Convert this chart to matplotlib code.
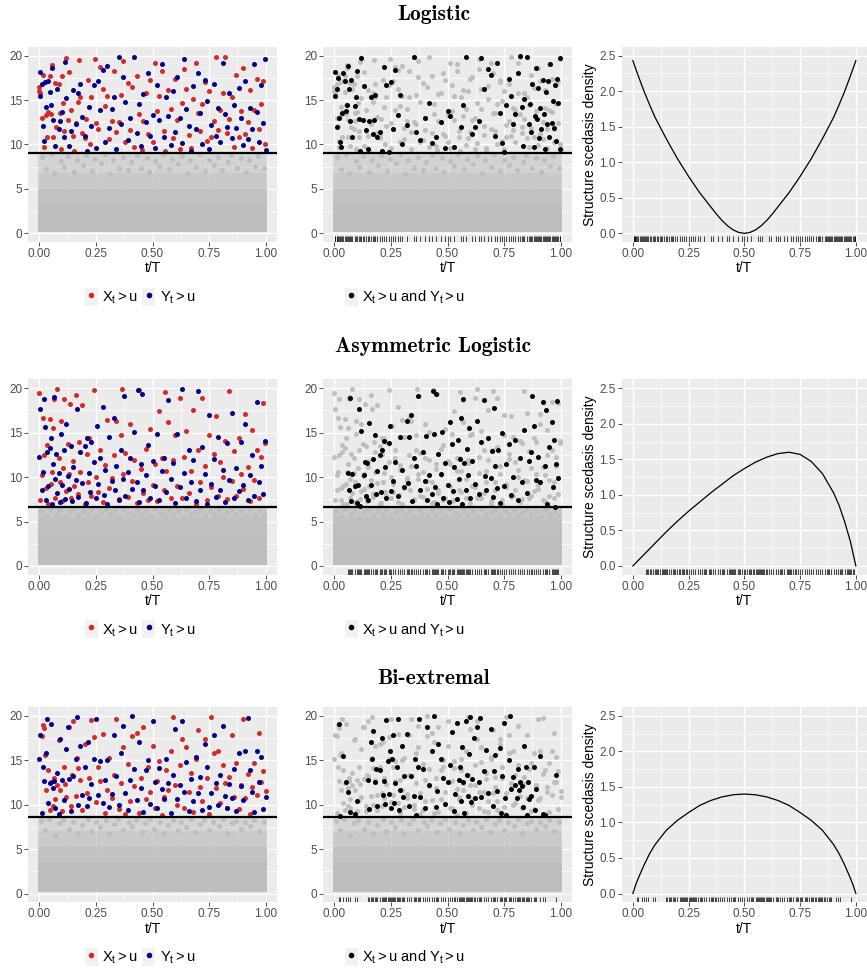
import matplotlib
matplotlib.use('Agg')
import matplotlib.pyplot as plt
from matplotlib.lines import Line2D
from matplotlib.patches import Patch

plt.rcParams['font.family'] = ['Liberation Sans', 'DejaVu Sans']
plt.rcParams['mathtext.fontset'] = 'custom'
plt.rcParams['mathtext.rm'] = 'Liberation Sans'
plt.rcParams['mathtext.it'] = 'Liberation Sans:italic'

RED = '#D22B2B'
BLUE = '#00008B'
GREY = '#BEBEBE'

TITLES = ['Logistic', 'Asymmetric Logistic', 'Bi-extremal']
THRESHOLDS = [9.08, 6.6, 8.62]

# grey bulk below the threshold: band edges and how dense each band looks
BULK_EDGES = [
    [0.15, 3.3, 5.0, 6.8, 9.05],
    [0.15, 4.0, 5.5, 6.55],
    [0.15, 3.5, 5.2, 7.0, 8.6],
]
BULK_DENSITY = [
    [1.0, 0.9, 0.75, 0.55],
    [1.0, 0.95, 0.8],
    [1.0, 0.9, 0.72, 0.5],
]
# loose grey points near the top of the bulk
LOG_GREY = [(0.012,8.6),(0.028,7.2),(0.053,8.9),(0.066,6.8),(0.094,8.1),(0.108,7.5),(0.127,8.7),(0.152,6.9),
            (0.168,8.3),(0.193,7.7),(0.207,8.8),(0.234,7.0),(0.246,8.4),(0.271,7.9),(0.288,8.9),(0.314,6.7),
            (0.326,8.2),(0.353,7.4),(0.368,8.6),(0.392,7.1),(0.404,8.0),(0.433,8.8),(0.447,7.3),(0.474,8.5),
            (0.486,6.9),(0.512,8.1),(0.527,7.6),(0.548,8.9),(0.574,7.2),(0.585,8.4),(0.613,7.8),(0.629,8.7),
            (0.652,6.8),(0.667,8.2),(0.694,7.5),(0.706,8.9),(0.733,7.0),(0.748,8.3),(0.772,7.7),(0.791,8.6),
            (0.808,7.1),(0.834,8.0),(0.846,8.8),(0.873,7.4),(0.889,8.5),(0.914,6.9),(0.927,8.2),(0.953,7.6),
            (0.968,8.7),(0.992,7.3)]
ASY_GREY = [(0.008,6.2),(0.031,5.6),(0.047,6.4),(0.072,5.9),(0.089,6.3),(0.113,5.5),(0.131,6.1),(0.148,6.4),
            (0.171,5.7),(0.192,6.2),(0.213,5.9),(0.229,6.4),(0.252,5.6),(0.274,6.1),(0.293,6.3),(0.311,5.8),
            (0.334,6.2),(0.351,5.5),(0.372,6.4),(0.389,6.0),(0.414,5.7),(0.432,6.3),(0.451,5.9),(0.473,6.2),
            (0.492,5.6),(0.511,6.4),(0.534,6.0),(0.553,5.7),(0.571,6.3),(0.592,5.9),(0.612,6.2),(0.633,5.5),
            (0.649,6.4),(0.671,5.8),(0.692,6.1),(0.711,6.4),(0.732,5.7),(0.753,6.2),(0.771,5.9),(0.794,6.3),
            (0.812,5.6),(0.829,6.1),(0.853,6.4),(0.871,5.8),(0.893,6.2),(0.912,5.6),(0.931,6.3),(0.952,5.9),
            (0.973,6.2),(0.991,5.7)]
BIE_GREY = [(0.006,8.2),(0.027,7.1),(0.044,8.4),(0.068,6.6),(0.087,7.9),(0.106,8.3),(0.129,7.3),(0.148,8.1),
            (0.173,6.8),(0.188,7.7),(0.214,8.4),(0.228,7.0),(0.251,8.0),(0.269,7.5),(0.293,8.3),(0.308,6.7),
            (0.331,7.8),(0.349,8.4),(0.368,7.2),(0.394,8.0),(0.409,7.6),(0.428,8.3),(0.452,6.9),(0.468,7.9),
            (0.489,8.4),(0.508,7.3),(0.532,8.1),(0.551,6.8),(0.569,7.7),(0.591,8.3),(0.611,7.1),(0.628,8.0),
            (0.649,7.5),(0.672,8.4),(0.688,6.9),(0.712,7.8),(0.729,8.3),(0.751,7.2),(0.769,8.0),(0.793,7.6),
            (0.811,8.4),(0.828,6.8),(0.852,7.9),(0.869,8.2),(0.891,7.3),(0.909,8.0),(0.932,7.6),(0.949,8.3),
            (0.971,7.0),(0.993,8.1)]

# ---- Logistic ----
LOG_RED = [(0.0,16.0),(0.0,16.5),(0.005,15.8),(0.01,13.0),(0.015,17.8),(0.02,9.7),(0.03,13.3),(0.035,10.8),
           (0.04,13.7),(0.045,17.7),(0.05,13.4),(0.055,18.9),(0.06,10.9),(0.07,16.9),(0.075,12.0),(0.085,16.8),
           (0.09,13.5),(0.095,9.5),(0.10,17.7),(0.105,14.7),(0.11,11.5),(0.12,19.7),(0.125,12.8),(0.13,18.2),
           (0.14,13.9),(0.15,11.0),(0.155,9.3),(0.16,12.4),(0.17,14.8),(0.175,19.5),(0.18,15.4),(0.19,11.3),
           (0.20,10.7),(0.205,12.9),(0.215,17.3),(0.225,10.0),(0.23,15.4),(0.245,19.6),(0.25,12.4),(0.26,11.7),
           (0.27,18.7),(0.28,16.3),(0.29,14.3),(0.30,15.5),(0.31,10.6),(0.32,12.6),(0.33,18.3),(0.34,11.4),
           (0.35,12.5),(0.36,15.6),(0.37,19.4),(0.38,10.3),(0.39,16.9),(0.40,11.6),(0.41,16.5),(0.42,9.7),
           (0.43,17.7),(0.44,13.4),(0.455,9.4),(0.46,12.6),(0.47,15.8),(0.48,11.2),(0.49,17.3),(0.50,10.3),
           (0.51,19.2),(0.52,13.8),(0.53,15.5),(0.54,18.3),(0.55,11.5),(0.555,9.3),(0.57,16.1),(0.58,14.0),
           (0.59,10.7),(0.60,17.4),(0.61,12.8),(0.62,9.5),(0.63,14.7),(0.64,18.5),(0.65,16.2),(0.66,11.1),
           (0.67,9.6),(0.68,15.1),(0.69,19.2),(0.70,13.5),(0.71,11.5),(0.72,14.6),(0.73,17.0),(0.74,10.4),
           (0.75,16.0),(0.76,10.9),(0.77,12.7),(0.78,19.9),(0.79,11.6),(0.80,13.9),(0.81,15.8),(0.82,19.8),
           (0.83,11.3),(0.84,12.9),(0.85,15.3),(0.86,9.7),(0.87,17.8),(0.88,10.8),(0.89,13.8),(0.90,18.6),
           (0.91,11.2),(0.92,12.5),(0.93,16.1),(0.94,9.6),(0.95,13.9),(0.96,17.4),(0.97,11.8),(0.98,14.6),
           (0.99,17.2),(0.995,10.1)]
LOG_BLUE = [(0.005,18.2),(0.005,15.5),(0.01,16.8),(0.015,12.1),(0.02,10.4),(0.025,17.0),(0.03,14.2),(0.04,17.2),
            (0.045,15.9),(0.05,14.5),(0.055,18.6),(0.06,12.8),(0.07,9.8),(0.08,16.2),(0.085,11.7),(0.09,12.7),
            (0.10,13.7),(0.11,10.8),(0.115,19.3),(0.12,15.2),(0.13,9.8),(0.14,11.5),(0.15,16.1),(0.16,12.3),
            (0.17,15.8),(0.18,16.8),(0.19,13.1),(0.20,11.0),(0.21,9.3),(0.22,14.2),(0.23,12.1),(0.24,16.7),
            (0.25,9.6),(0.26,17.1),(0.27,13.9),(0.28,18.4),(0.29,10.3),(0.30,18.8),(0.31,11.9),(0.32,14.0),
            (0.33,15.3),(0.34,9.5),(0.35,19.9),(0.36,12.3),(0.37,17.6),(0.38,14.8),(0.39,10.5),(0.40,13.0),
            (0.42,19.8),(0.43,11.3),(0.44,14.6),(0.45,9.8),(0.46,15.7),(0.47,12.5),(0.48,18.1),(0.49,11.0),
            (0.50,13.3),(0.51,9.6),(0.52,16.7),(0.53,12.8),(0.54,19.1),(0.55,10.8),(0.56,15.4),(0.57,13.2),
            (0.58,9.9),(0.59,16.0),(0.60,11.4),(0.61,17.6),(0.62,13.0),(0.63,10.2),(0.64,19.6),(0.65,14.0),
            (0.66,12.1),(0.67,9.3),(0.68,16.6),(0.69,11.8),(0.70,18.0),(0.71,13.6),(0.72,10.1),(0.73,17.3),
            (0.74,14.9),(0.75,9.5),(0.76,12.2),(0.77,16.8),(0.78,11.0),(0.79,14.1),(0.80,10.3),(0.81,19.2),
            (0.82,13.4),(0.83,12.0),(0.84,15.8),(0.85,10.7),(0.86,14.4),(0.87,11.9),(0.88,16.4),(0.89,13.0),
            (0.90,9.9),(0.91,17.1),(0.92,10.6),(0.93,14.1),(0.94,11.7),(0.95,19.1),(0.96,13.7),(0.97,10.3),
            (0.98,16.7),(0.99,12.4),(0.995,19.6),(1.0,9.4)]
LOG_BOTH = [(0.005,18.2),(0.005,15.5),(0.01,16.3),(0.01,12.0),(0.015,17.5),(0.02,13.0),(0.025,10.3),(0.03,9.7),
            (0.035,13.5),(0.04,18.0),(0.045,17.1),(0.05,13.8),(0.055,14.5),(0.06,18.8),(0.065,16.2),(0.07,12.6),
            (0.075,17.3),(0.08,10.9),(0.09,14.3),(0.095,15.3),(0.10,18.3),(0.11,12.9),(0.115,9.3),(0.12,19.7),
            (0.125,12.8),(0.13,16.6),(0.14,11.6),(0.15,9.5),(0.155,12.6),(0.16,15.3),(0.17,11.2),(0.175,12.8),
            (0.18,15.6),(0.19,10.9),(0.20,11.4),(0.21,9.3),(0.22,18.7),(0.23,16.7),(0.24,9.2),(0.25,17.0),
            (0.26,11.7),(0.27,18.4),(0.28,13.3),(0.29,15.6),(0.30,10.1),(0.32,12.2),(0.35,19.9),(0.36,11.4),
            (0.38,10.5),(0.40,13.0),(0.42,14.7),(0.43,10.2),(0.45,10.9),(0.47,12.5),(0.49,9.6),(0.50,13.8),
            (0.51,13.2),(0.53,9.7),(0.56,12.0),(0.57,14.4),(0.58,19.8),(0.61,11.2),(0.62,12.0),(0.64,12.6),
            (0.65,19.7),(0.66,16.2),(0.68,18.5),(0.69,17.8),(0.71,11.0),(0.72,19.2),(0.73,13.5),(0.74,10.2),
            (0.75,9.2),(0.76,14.5),(0.77,17.4),(0.78,15.5),(0.79,12.3),(0.80,13.4),(0.81,18.0),(0.82,20.0),
            (0.83,14.2),(0.835,9.8),(0.84,15.1),(0.85,19.8),(0.86,12.3),(0.865,14.6),(0.87,11.4),(0.875,16.8),
            (0.88,9.7),(0.885,13.2),(0.89,18.6),(0.895,12.9),(0.90,16.4),(0.905,10.7),(0.91,14.1),(0.915,11.8),
            (0.92,17.3),(0.925,13.4),(0.93,9.5),(0.935,15.9),(0.94,12.3),(0.945,17.1),(0.95,10.9),(0.955,19.1),
            (0.96,12.4),(0.965,14.9),(0.97,11.9),(0.975,16.7),(0.98,10.4),(0.985,17.4),(0.99,14.7),(0.995,9.5),
            (0.995,19.7)]
LOG_DENS_T = [0.0, 0.025, 0.05, 0.075, 0.10, 0.15, 0.20, 0.25, 0.30, 0.35, 0.375, 0.40, 0.425, 0.45, 0.475, 0.50,
              0.525, 0.55, 0.575, 0.60, 0.625, 0.65, 0.70, 0.75, 0.80, 0.85, 0.90, 0.925, 0.95, 0.975, 1.0]
LOG_DENS = [2.43, 2.21, 2.00, 1.81, 1.63, 1.33, 1.05, 0.80, 0.57, 0.37, 0.27, 0.18, 0.105, 0.048, 0.012, 0.0,
            0.012, 0.048, 0.105, 0.18, 0.27, 0.37, 0.57, 0.80, 1.05, 1.33, 1.63, 1.81, 2.00, 2.21, 2.43]

# ---- Asymmetric Logistic ----
ASY_RED = [(0.00,19.5),(0.005,7.4),(0.01,10.2),(0.015,16.6),(0.02,12.5),(0.03,8.8),(0.035,13.6),(0.04,7.0),
           (0.045,16.5),(0.05,9.2),(0.055,10.6),(0.06,15.5),(0.065,18.8),(0.07,7.7),(0.08,19.9),(0.085,12.2),
           (0.09,9.5),(0.095,16.3),(0.10,7.3),(0.105,11.0),(0.11,18.8),(0.12,8.4),(0.125,13.7),(0.13,10.3),
           (0.135,18.2),(0.14,7.6),(0.15,11.8),(0.155,9.0),(0.16,19.2),(0.17,8.1),(0.175,14.0),(0.18,10.6),
           (0.19,18.1),(0.20,7.0),(0.21,12.6),(0.215,9.4),(0.22,14.4),(0.23,7.9),(0.24,19.8),(0.25,10.0),
           (0.26,8.3),(0.27,13.1),(0.28,7.2),(0.29,11.4),(0.30,16.4),(0.31,8.8),(0.32,9.9),(0.33,12.5),
           (0.34,16.3),(0.35,7.5),(0.36,14.7),(0.365,19.9),(0.37,10.4),(0.38,12.7),(0.39,7.8),(0.40,16.0),
           (0.41,9.6),(0.42,11.9),(0.43,7.1),(0.44,19.8),(0.45,10.9),(0.46,8.2),(0.47,13.2),(0.48,7.4),
           (0.49,15.4),(0.50,9.1),(0.51,11.5),(0.52,7.3),(0.53,17.4),(0.54,12.1),(0.55,8.6),(0.555,19.6),
           (0.56,10.7),(0.57,16.2),(0.58,7.6),(0.59,11.9),(0.60,14.7),(0.61,9.0),(0.62,18.9),(0.63,7.7),
           (0.64,12.3),(0.65,15.2),(0.66,8.2),(0.67,10.7),(0.68,17.6),(0.69,7.0),(0.70,13.1),(0.71,9.5),
           (0.72,18.9),(0.73,11.2),(0.74,7.4),(0.75,14.7),(0.76,8.9),(0.77,12.6),(0.78,16.9),(0.79,7.9),
           (0.80,11.7),(0.81,10.0),(0.82,14.1),(0.83,7.5),(0.84,19.7),(0.85,9.6),(0.86,12.9),(0.87,7.9),
           (0.88,14.4),(0.89,10.3),(0.90,8.7),(0.91,17.1),(0.92,11.1),(0.93,7.3),(0.94,15.3),(0.95,9.7),
           (0.96,13.1),(0.97,7.6),(0.98,12.3),(0.99,18.3),(0.995,13.8)]
ASY_BLUE = [(0.00,12.3),(0.005,17.7),(0.01,8.6),(0.015,10.6),(0.02,18.8),(0.025,15.6),(0.03,7.4),(0.035,12.8),
            (0.04,9.0),(0.045,13.3),(0.05,14.4),(0.055,7.0),(0.06,11.5),(0.065,19.0),(0.07,9.8),(0.075,12.6),
            (0.08,8.2),(0.085,10.5),(0.09,7.2),(0.095,14.8),(0.10,9.1),(0.11,13.0),(0.115,7.5),(0.12,16.0),
            (0.125,10.1),(0.13,8.7),(0.14,13.5),(0.145,7.3),(0.15,11.1),(0.16,9.7),(0.165,17.7),(0.17,7.8),
            (0.18,12.8),(0.19,9.3),(0.20,13.5),(0.205,7.1),(0.21,14.4),(0.22,10.5),(0.225,8.3),(0.23,13.9),
            (0.24,11.7),(0.25,7.6),(0.255,15.8),(0.26,9.2),(0.27,12.2),(0.28,17.9),(0.285,8.0),(0.29,10.8),
            (0.30,7.0),(0.31,14.5),(0.32,9.6),(0.33,16.7),(0.335,8.5),(0.34,11.3),(0.35,7.4),(0.36,13.0),
            (0.37,9.8),(0.375,19.1),(0.38,7.9),(0.39,10.6),(0.40,12.2),(0.41,8.7),(0.42,15.1),(0.43,9.5),
            (0.435,19.8),(0.44,7.2),(0.45,11.5),(0.455,19.4),(0.46,8.6),(0.47,10.2),(0.48,13.6),(0.49,7.6),
            (0.50,11.8),(0.51,9.0),(0.52,14.9),(0.53,7.4),(0.54,10.7),(0.55,12.2),(0.56,8.3),(0.57,18.7),
            (0.58,9.8),(0.59,11.6),(0.60,7.1),(0.61,14.8),(0.62,8.9),(0.63,19.9),(0.64,10.5),(0.65,7.7),
            (0.66,13.0),(0.67,9.4),(0.68,11.9),(0.69,7.3),(0.70,19.7),(0.71,8.6),(0.72,13.4),(0.73,10.4),
            (0.74,7.0),(0.75,17.0),(0.76,9.2),(0.77,12.0),(0.78,7.8),(0.79,14.5),(0.80,8.5),(0.81,10.8),
            (0.82,7.2),(0.83,13.8),(0.84,9.7),(0.85,17.2),(0.86,7.6),(0.87,11.0),(0.88,8.4),(0.89,13.9),
            (0.90,9.1),(0.91,16.0),(0.92,7.4),(0.93,10.2),(0.94,12.5),(0.95,7.9),(0.96,18.5),(0.97,9.4),
            (0.98,11.3),(0.99,8.1),(0.995,14.1)]
ASY_BOTH = [(0.06,10.5),(0.065,8.5),(0.07,18.9),(0.075,7.3),(0.08,10.4),(0.09,9.0),(0.10,7.1),(0.105,9.1),
            (0.11,17.7),(0.115,6.8),(0.12,15.2),(0.13,10.2),(0.135,11.7),(0.14,7.9),(0.145,11.6),(0.15,7.4),
            (0.155,16.1),(0.16,9.1),(0.17,12.0),(0.18,14.7),(0.185,8.1),(0.19,10.7),(0.20,12.5),(0.205,8.3),
            (0.21,13.0),(0.22,14.1),(0.225,11.1),(0.23,7.7),(0.24,13.8),(0.245,15.8),(0.25,8.4),(0.26,9.6),
            (0.27,11.7),(0.28,7.9),(0.29,14.5),(0.30,10.8),(0.31,8.9),(0.32,16.3),(0.325,9.3),(0.33,14.5),
            (0.34,17.0),(0.345,7.3),(0.35,12.1),(0.36,11.3),(0.37,19.1),(0.38,8.6),(0.39,12.8),(0.40,9.6),
            (0.405,14.6),(0.41,7.4),(0.42,10.2),(0.43,8.1),(0.435,19.7),(0.44,14.8),(0.445,8.9),(0.45,19.3),
            (0.455,7.0),(0.46,12.6),(0.47,10.4),(0.475,15.1),(0.48,7.7),(0.49,11.6),(0.50,9.1),(0.505,7.2),
            (0.51,16.2),(0.52,13.7),(0.525,8.4),(0.53,11.1),(0.54,7.5),(0.545,14.2),(0.55,9.8),(0.555,12.0),
            (0.56,16.6),(0.565,7.0),(0.57,18.8),(0.575,11.6),(0.58,8.6),(0.585,13.2),(0.59,10.2),(0.595,15.5),
            (0.60,7.7),(0.61,11.8),(0.62,9.2),(0.63,16.3),(0.64,8.1),(0.65,13.9),(0.66,18.7),(0.665,10.1),
            (0.67,8.5),(0.68,14.4),(0.69,9.9),(0.695,12.9),(0.70,7.8),(0.705,17.8),(0.71,11.2),(0.72,8.8),
            (0.725,13.0),(0.73,7.1),(0.74,15.0),(0.75,9.0),(0.76,11.5),(0.77,13.7),(0.78,8.0),(0.79,10.0),
            (0.80,14.2),(0.81,7.4),(0.82,12.2),(0.83,9.5),(0.84,15.3),(0.85,8.2),(0.86,11.8),(0.87,12.8),
            (0.875,19.1),(0.88,15.7),(0.89,9.7),(0.90,12.3),(0.91,9.4),(0.92,18.5),(0.93,11.2),(0.935,17.5),
            (0.94,7.0),(0.95,13.4),(0.96,16.2),(0.965,8.9),(0.97,14.2),(0.975,6.6),(0.98,11.5),(0.985,18.6),
            (0.99,9.9)]
ASY_DENS_T = [0.0, 0.05, 0.10, 0.15, 0.20, 0.25, 0.30, 0.35, 0.40, 0.45, 0.50, 0.55, 0.60, 0.65, 0.70,
              0.75, 0.80, 0.85, 0.90, 0.925, 0.95, 0.975, 1.0]
ASY_DENS = [0.0, 0.16, 0.32, 0.48, 0.63, 0.77, 0.90, 1.03, 1.15, 1.27, 1.37, 1.46, 1.53, 1.58, 1.60,
            1.57, 1.47, 1.30, 1.03, 0.85, 0.62, 0.35, 0.0]

# ---- Bi-extremal ----
BIE_RED = [(0.01,17.7),(0.015,19.0),(0.02,18.6),(0.025,15.6),(0.03,11.6),(0.04,13.9),(0.045,9.4),(0.05,12.5),
           (0.06,9.9),(0.065,13.0),(0.07,10.6),(0.08,12.2),(0.085,17.3),(0.09,11.6),(0.10,9.3),(0.11,14.2),
           (0.115,12.3),(0.12,10.9),(0.13,18.8),(0.14,9.8),(0.145,13.4),(0.15,19.4),(0.16,11.0),(0.165,15.3),
           (0.17,14.1),(0.18,12.8),(0.19,9.4),(0.20,16.8),(0.21,11.3),(0.22,13.0),(0.23,19.5),(0.24,17.6),
           (0.25,10.3),(0.26,14.3),(0.27,12.7),(0.28,18.0),(0.29,9.1),(0.30,11.6),(0.31,15.3),(0.32,10.8),
           (0.33,13.3),(0.34,19.6),(0.35,9.5),(0.36,12.4),(0.37,16.5),(0.38,8.9),(0.39,14.6),(0.40,10.4),
           (0.41,17.7),(0.42,12.1),(0.43,18.1),(0.44,9.1),(0.45,13.0),(0.46,18.8),(0.47,10.6),(0.48,14.2),
           (0.49,11.4),(0.50,16.6),(0.51,9.6),(0.52,12.7),(0.53,14.9),(0.54,8.8),(0.55,10.9),(0.56,13.9),
           (0.57,11.7),(0.58,16.1),(0.59,19.9),(0.60,12.2),(0.61,10.0),(0.62,14.5),(0.63,17.4),(0.64,9.6),
           (0.65,16.5),(0.66,11.4),(0.67,13.6),(0.68,9.2),(0.69,15.1),(0.70,18.4),(0.71,12.0),(0.72,10.4),
           (0.73,17.4),(0.74,13.0),(0.75,8.9),(0.76,19.9),(0.77,15.8),(0.78,11.9),(0.79,16.0),(0.80,10.2),
           (0.81,14.5),(0.82,12.4),(0.83,9.6),(0.84,13.1),(0.85,17.8),(0.86,10.9),(0.87,14.7),(0.88,9.5),
           (0.89,12.2),(0.90,19.7),(0.91,10.7),(0.92,13.5),(0.93,9.0),(0.94,12.0),(0.95,14.7),(0.96,11.1),
           (0.97,18.1),(0.98,12.6),(0.99,13.8),(1.0,11.5)]
BIE_BLUE = [(0.0,15.1),(0.005,17.8),(0.01,9.1),(0.015,14.2),(0.02,12.7),(0.03,15.8),(0.035,19.7),(0.04,10.2),
            (0.045,12.4),(0.05,19.1),(0.06,11.9),(0.065,12.7),(0.07,9.6),(0.08,13.6),(0.085,8.9),(0.09,17.4),
            (0.10,12.8),(0.11,10.5),(0.12,16.3),(0.125,18.7),(0.13,12.9),(0.14,9.3),(0.15,13.2),(0.16,15.1),
            (0.165,19.9),(0.17,10.0),(0.18,16.6),(0.19,11.1),(0.20,14.3),(0.21,9.8),(0.215,17.1),(0.22,10.7),
            (0.23,12.3),(0.24,15.2),(0.25,19.6),(0.26,11.1),(0.27,14.9),(0.28,10.2),(0.29,12.8),(0.30,15.0),
            (0.31,9.7),(0.32,11.2),(0.33,17.8),(0.34,13.2),(0.35,10.0),(0.36,15.8),(0.37,18.9),(0.38,11.3),
            (0.39,9.4),(0.40,12.8),(0.41,20.0),(0.42,14.0),(0.43,10.5),(0.44,17.1),(0.45,11.9),(0.46,9.2),
            (0.47,13.9),(0.48,15.0),(0.49,10.1),(0.50,19.4),(0.51,12.6),(0.52,9.6),(0.53,14.1),(0.54,11.8),
            (0.55,10.6),(0.56,15.1),(0.57,12.4),(0.58,9.1),(0.59,13.3),(0.60,18.5),(0.61,10.6),(0.62,12.2),
            (0.63,19.4),(0.64,11.4),(0.65,14.8),(0.66,9.3),(0.67,12.9),(0.68,10.4),(0.69,15.4),(0.70,11.3),
            (0.71,13.1),(0.72,9.4),(0.73,16.8),(0.74,14.3),(0.75,9.7),(0.76,11.3),(0.77,17.9),(0.78,12.4),
            (0.79,10.0),(0.80,13.3),(0.81,18.9),(0.82,11.0),(0.83,9.6),(0.84,12.3),(0.85,10.7),(0.86,14.0),
            (0.87,9.3),(0.88,15.8),(0.89,12.1),(0.90,10.5),(0.91,16.1),(0.92,19.8),(0.93,13.9),(0.94,11.4),
            (0.95,9.2),(0.96,16.0),(0.97,12.6),(0.98,15.4),(0.99,9.5),(1.0,10.9)]
BIE_BOTH = [(0.02,19.1),(0.025,8.7),(0.04,15.5),(0.05,12.5),(0.06,11.4),(0.07,9.2),(0.09,8.9),(0.10,10.4),
            (0.15,12.8),(0.155,9.5),(0.16,17.1),(0.165,15.1),(0.17,18.3),(0.18,12.5),(0.185,14.0),(0.19,9.8),
            (0.20,13.9),(0.21,17.5),(0.215,11.1),(0.22,12.7),(0.225,10.1),(0.23,19.5),(0.235,14.9),(0.24,11.2),
            (0.245,16.1),(0.25,9.6),(0.255,15.2),(0.26,17.9),(0.265,10.2),(0.27,12.4),(0.275,14.3),(0.28,19.7),
            (0.285,9.4),(0.29,11.6),(0.30,16.6),(0.305,10.9),(0.31,13.2),(0.32,18.0),(0.33,9.9),(0.34,13.2),
            (0.35,11.0),(0.355,15.2),(0.36,8.8),(0.37,14.2),(0.375,19.6),(0.38,10.9),(0.39,14.0),(0.40,9.6),
            (0.41,18.8),(0.42,12.2),(0.43,16.0),(0.44,20.0),(0.45,9.7),(0.455,11.5),(0.46,16.8),(0.47,15.2),
            (0.48,13.0),(0.49,10.1),(0.50,12.6),(0.51,14.5),(0.52,18.2),(0.53,9.3),(0.535,11.2),(0.54,19.2),
            (0.55,12.8),(0.555,14.2),(0.56,10.4),(0.565,16.5),(0.57,12.6),(0.575,9.1),(0.58,19.4),(0.585,13.3),
            (0.59,11.0),(0.595,15.7),(0.60,19.9),(0.605,10.3),(0.61,12.9),(0.615,17.5),(0.62,10.7),(0.63,18.8),
            (0.64,12.5),(0.645,19.8),(0.65,10.9),(0.66,13.8),(0.67,16.2),(0.68,11.3),(0.69,18.5),(0.70,9.9),
            (0.705,13.8),(0.71,15.6),(0.72,11.5),(0.73,16.4),(0.735,9.1),(0.74,13.2),(0.75,19.2),(0.755,10.8),
            (0.76,8.8),(0.77,15.0),(0.775,20.0),(0.78,11.8),(0.79,13.1),(0.80,12.2),(0.805,10.7),(0.81,14.0),
            (0.815,11.6),(0.82,12.6),(0.83,12.1),(0.835,9.7),(0.84,16.6),(0.845,14.2),(0.85,8.8),(0.855,12.5),
            (0.86,10.6),(0.87,11.0),(0.88,14.3),(0.885,9.4),(0.89,11.8),(0.91,15.5),(0.92,9.0),(0.93,8.8),
            (0.98,13.3)]
BIE_DENS_T = [0.0, 0.0125, 0.025, 0.05, 0.075, 0.10, 0.15, 0.20, 0.25, 0.30, 0.35, 0.40, 0.45, 0.50,
              0.55, 0.60, 0.65, 0.70, 0.75, 0.80, 0.85, 0.90, 0.925, 0.95, 0.975, 0.9875, 1.0]
BIE_DENS = [0.0, 0.12, 0.22, 0.40, 0.56, 0.69, 0.89, 1.03, 1.14, 1.24, 1.31, 1.36, 1.39, 1.40,
            1.39, 1.36, 1.31, 1.24, 1.14, 1.03, 0.89, 0.69, 0.56, 0.40, 0.22, 0.12, 0.0]

ROWS = [
    (LOG_RED, LOG_BLUE, LOG_BOTH, LOG_GREY, LOG_DENS_T, LOG_DENS),
    (ASY_RED, ASY_BLUE, ASY_BOTH, ASY_GREY, ASY_DENS_T, ASY_DENS),
    (BIE_RED, BIE_BLUE, BIE_BOTH, BIE_GREY, BIE_DENS_T, BIE_DENS),
]

XTICKS = [0, 0.25, 0.5, 0.75, 1.0]
XTICKLABELS = ['0.00', '0.25', '0.50', '0.75', '1.00']
DOT = 13


def gg_style(ax):
    ax.set_facecolor('#EBEBEB')
    for s in ax.spines.values():
        s.set_visible(False)
    ax.set_xlim(-0.05, 1.05)
    ax.set_xticks(XTICKS)
    ax.set_xticklabels(XTICKLABELS)
    ax.set_xticks([0.125, 0.375, 0.625, 0.875], minor=True)
    ax.grid(True, which='major', color='white', lw=1.0)
    ax.grid(True, which='minor', color='white', lw=0.5)
    ax.set_axisbelow(True)
    ax.tick_params(which='major', length=2.75, width=0.6, color='#333333',
                   labelcolor='#4D4D4D', labelsize=8.5, pad=1.5)
    ax.tick_params(which='minor', length=0)
    ax.set_xlabel('t/T', fontsize=10, labelpad=1)


def scatter_axes(ax):
    gg_style(ax)
    ax.set_ylim(-1, 21)
    ax.set_yticks([0, 5, 10, 15, 20])
    ax.set_yticks([2.5, 7.5, 12.5, 17.5], minor=True)


def draw_bulk(ax, edges, dens, loose):
    for lo, hi, a in zip(edges[:-1], edges[1:], dens):
        ax.fill_between([-0.008, 1.008], lo, hi, color=GREY, alpha=a, lw=0)
    ax.scatter([p[0] for p in loose], [p[1] for p in loose], s=DOT, color=GREY, lw=0, zorder=2)


def rug(ax, ts):
    ax.vlines(ts, 0, 0.03, transform=ax.get_xaxis_transform(), color='black', lw=0.5)


fig = plt.figure(figsize=(8.67, 9.72), dpi=100)
W, H = 867, 972
panel_h = 195.4
row_tops = [46.8, 379.4, 707.0]
col_lefts = [28, 323, 621.7]
col_widths = [249, 249, 245.3]
title_y = [14, 346, 679]

for r, (red, blue, both, loose, dt, dv) in enumerate(ROWS):
    u = THRESHOLDS[r]
    bottom = 1 - (row_tops[r] + panel_h) / H
    axes = [fig.add_axes([col_lefts[c] / W, bottom, col_widths[c] / W, panel_h / H]) for c in range(3)]
    ax1, ax2, ax3 = axes

    # left: exceedances of X and Y
    scatter_axes(ax1)
    draw_bulk(ax1, BULK_EDGES[r], BULK_DENSITY[r], loose)
    ax1.scatter([p[0] for p in red], [p[1] for p in red], s=DOT, color=RED, lw=0, zorder=3)
    ax1.scatter([p[0] for p in blue], [p[1] for p in blue], s=DOT, color=BLUE, lw=0, zorder=3)
    ax1.axhline(u, color='black', lw=1.6, zorder=4)

    # middle: joint exceedances
    scatter_axes(ax2)
    draw_bulk(ax2, BULK_EDGES[r], BULK_DENSITY[r], loose)
    allpts = red + blue
    ax2.scatter([p[0] for p in allpts], [p[1] for p in allpts], s=DOT, color=GREY, lw=0, zorder=3)
    ax2.scatter([p[0] for p in both], [p[1] for p in both], s=DOT, color='black', lw=0, zorder=3)
    ax2.axhline(u, color='black', lw=1.6, zorder=4)
    rug(ax2, [p[0] for p in both])

    # right: scedasis density
    gg_style(ax3)
    ax3.set_ylim(-0.125, 2.625)
    ax3.set_yticks([0, 0.5, 1.0, 1.5, 2.0, 2.5])
    ax3.set_yticklabels(['0.0', '0.5', '1.0', '1.5', '2.0', '2.5'])
    ax3.set_yticks([0.25, 0.75, 1.25, 1.75, 2.25], minor=True)
    ax3.plot(dt, dv, color='black', lw=0.9)
    rug(ax3, [p[0] for p in both])
    ax3.set_ylabel('Structure scedasis density', fontsize=10, labelpad=2)

    fig.text(0.5, 1 - title_y[r] / H, TITLES[r], ha='center', va='center',
             fontsize=15.5, family='cmb10')

    key = Patch(facecolor='#F2F2F2', edgecolor='none')
    h_red = (key, Line2D([], [], marker='o', ls='', color=RED, ms=3))
    h_blue = (key, Line2D([], [], marker='o', ls='', color=BLUE, ms=3))
    h_both = (key, Line2D([], [], marker='o', ls='', color='black', ms=3))
    ax1.legend([h_red, h_blue], [r'$\mathregular{X_t > u}$', r'$\mathregular{Y_t > u}$'],
               loc='center', bbox_to_anchor=(0.45, -0.28), ncol=2, frameon=False,
               fontsize=10.5, handlelength=0.9, handleheight=1.5, handletextpad=0.3,
               columnspacing=0.3, borderpad=0)
    ax2.legend([h_both], [r'$\mathregular{X_t > u\ and\ Y_t > u}$'],
               loc='center', bbox_to_anchor=(0.33, -0.28), frameon=False,
               fontsize=10.5, handlelength=0.9, handleheight=1.5, handletextpad=0.3,
               borderpad=0)

fig.savefig('out.png', dpi=100)
